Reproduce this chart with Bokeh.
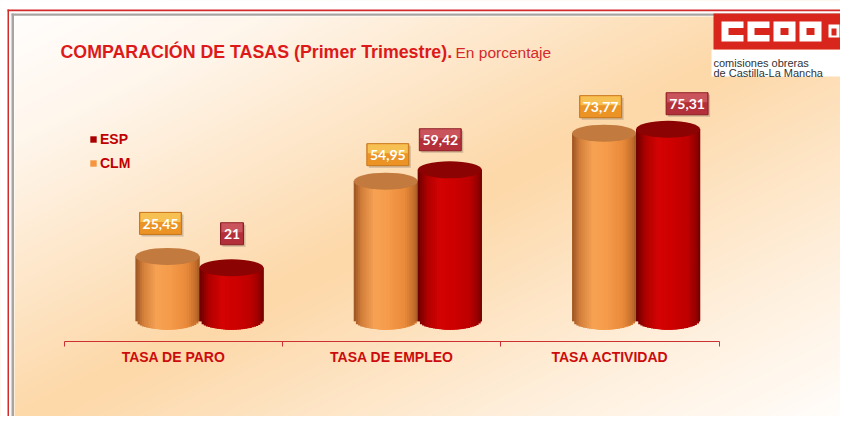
import numpy as np
from bokeh.plotting import figure
from bokeh.models import (Range1d, LinearAxis, FixedTicker, Label, Legend,
                          LegendItem, ColumnDataSource)
from bokeh.core.properties import value
from bokeh.embed import file_html
from bokeh.resources import INLINE

# ---------------- data ----------------
categories = ["TASA DE PARO", "TASA DE EMPLEO", "TASA ACTIVIDAD"]
series = ["ESP", "CLM"]
clm_values = [25.45, 54.95, 73.77]
esp_values = [21.0, 59.42, 75.31]

# ---------------- geometry / style ----------------
W, H = 840, 416
CAT0_PX, CAT_STEP_PX, BASE_PX, UNIT_PX = 173.0, 218.3, 320.8, 2.55


def X(px):  # canvas pixel -> data x
    return (px - CAT0_PX) / CAT_STEP_PX


def Y(py):  # canvas pixel -> data y
    return (BASE_PX - py) / UNIT_PX


BAR_W = 64 / CAT_STEP_PX
CAP_PX = 17
OFFSETS = {"CLM": -6 / CAT_STEP_PX, "ESP": 58 / CAT_STEP_PX}
LABEL_DX = {"CLM": [-7, 2, -3.5], "ESP": [0.5, -9.5, 19]}
LABEL_DY = {"CLM": [33, 26.5, 26.5], "ESP": [34, 30, 25.5]}

GRAD = {
    "CLM": ([-1, -0.75, -0.35, 0.1, 0.6, 0.88, 1],
            ["#9a5424", "#d4803c", "#f7a253", "#f59b4a", "#e98a3a", "#c46e2c", "#a05a24"]),
    "ESP": ([-1, -0.7, -0.3, 0.1, 0.6, 0.88, 1],
            ["#6a0000", "#b00000", "#d40404", "#cf0000", "#bd0000", "#950000", "#700000"]),
}
CAP_COLOR = {"CLM": "#c27a3e", "ESP": "#8c0303"}
BOX = {"CLM": ("#ec9326", "#fbcf62", "#c8761a"), "ESP": ("#b3303a", "#d26068", "#8c1c24")}
LEG_COLOR = {"ESP": "#a80000", "CLM": "#f5953f"}


def hex2rgb(h):
    h = h.lstrip("#")
    return [int(h[i:i + 2], 16) for i in (0, 2, 4)]


def grad_color(name, t):
    pos, cols = GRAD[name]
    rgb = np.array([hex2rgb(c) for c in cols], dtype=float)
    r, g, b = (np.interp(t, pos, rgb[:, k]) for k in range(3))
    return "#%02x%02x%02x" % (int(r), int(g), int(b))


def fmt(v):
    return str(int(v)) if float(v).is_integer() else f"{v:.2f}".replace(".", ",")


p = figure(width=W, height=H, x_range=Range1d(X(0), X(W)),
           y_range=Range1d(Y(H), Y(0)), output_backend="svg",
           toolbar_location=None, x_axis_location=None, y_axis_location=None,
           min_border=0)
for g in p.grid:
    g.visible = False
p.outline_line_color = None
p.background_fill_color = "white"
p.border_fill_color = "white"

# ---------------- background gradient ----------------
gw, gh = 420, 208
xs = (np.arange(gw) + 0.5) / gw * W
ys = (np.arange(gh) + 0.5) / gh * H
XX, YY = np.meshgrid(xs, ys)
u = XX / 856 + YY / 432
stops = [0, 0.35, 1.0, 1.6, 2.0]
scol = np.array([[255, 255, 255], [255, 246, 236], [253, 216, 168],
                 [255, 241, 224], [255, 255, 255]], dtype=float)
img = np.empty((gh, gw), dtype=np.uint32)
view = img.view(dtype=np.uint8).reshape((gh, gw, 4))
for k in range(3):
    view[:, :, k] = np.interp(u, stops, scol[:, k]).astype(np.uint8)
view[:, :, 3] = 255
img = img[::-1].copy()
p.image_rgba(image=[img], x=X(0), y=Y(H), dw=X(W) - X(0), dh=Y(0) - Y(H))

# frame lines
p.quad(left=[X(0), X(0)], right=[X(14), X(W)], top=[Y(0), Y(0)], bottom=[Y(H), Y(16)],
       fill_color="white", line_color=None)
p.quad(left=[X(7), X(7)], right=[X(W), X(8.5)], top=[Y(9), Y(9)], bottom=[Y(10.8), Y(H)],
       fill_color="#d42a2a", line_color=None)
p.quad(left=[X(11), X(11)], right=[X(W), X(13.5)], top=[Y(13), Y(13)], bottom=[Y(15.3), Y(H)],
       fill_color="#aaa4a0", line_color=None)

# ---------------- cylinders ----------------
K = 30
edges = np.linspace(-1, 1, K + 1)
dw = edges[1] - edges[0]
cap_half = CAP_PX / 2 / UNIT_PX
leg_r = {}
for name, vals in (("CLM", clm_values), ("ESP", esp_values)):
    xc = [i + OFFSETS[name] for i in range(len(vals))]
    # solid body of each bar (covered by the shading strips below)
    leg_r[name] = p.vbar(x=xc, top=vals, bottom=0, width=BAR_W, fill_color=LEG_COLOR[name],
                         line_color=None)
    xs_, ws_, tops, bots, cols = [], [], [], [], []
    for i, v in enumerate(vals):
        for k in range(K):
            l_ = edges[k]
            r_ = min(edges[k + 1] + 1.5 * dw, 1.0)
            c = (edges[k] + edges[k + 1]) / 2
            xs_.append(xc[i] + (l_ + r_) / 2 * BAR_W / 2)
            ws_.append((r_ - l_) * BAR_W / 2)
            tops.append(v)
            edge_c = r_ if r_ > 0 and l_ > 0 else (l_ if r_ < 0 else 0.0)
            bots.append(-cap_half * np.sqrt(max(0.0, 1 - edge_c * edge_c)))
            cols.append(grad_color(name, c))
    src = ColumnDataSource(dict(x=xs_, w=ws_, top=tops, bottom=bots, color=cols))
    p.vbar(x="x", top="top", bottom="bottom", width="w", fill_color="color",
           line_color=None, source=src)
    p.ellipse(x=xc, y=vals, width=BAR_W, height=CAP_PX, height_units="screen",
              fill_color=CAP_COLOR[name], line_color=None)

# ---------------- value labels ----------------
for name, vals in (("CLM", clm_values), ("ESP", esp_values)):
    txt = [fmt(v) for v in vals]
    lx = [i + OFFSETS[name] + LABEL_DX[name][i] / CAT_STEP_PX for i in range(len(vals))]
    ly = [v + LABEL_DY[name][i] / UNIT_PX for i, v in enumerate(vals)]
    bw = [6.33 * len(t) + 10.3 for t in txt]
    base, light, edge = BOX[name]
    p.rect(x=[a + 2 / CAT_STEP_PX for a in lx], y=[b - 2 / UNIT_PX for b in ly], width=bw,
           height=22, width_units="screen", height_units="screen",
           fill_color="#7a6a5a", fill_alpha=0.35, line_color=None)
    p.rect(x=lx, y=ly, width=bw, height=22, width_units="screen", height_units="screen",
           fill_color=base, line_color=edge, line_width=1)
    p.rect(x=lx, y=[b + 6 / UNIT_PX for b in ly], width=[w - 2 for w in bw], height=9,
           width_units="screen", height_units="screen",
           fill_color=light, fill_alpha=0.75, line_color=None)
    p.text(x=lx, y=[b - 0.5 / UNIT_PX for b in ly], text=txt, text_align="center",
           text_baseline="middle", text_color="white", text_font=value("Lato"),
           text_font_style="bold", text_font_size="14px")

# ---------------- category axis ----------------
ax = LinearAxis(fixed_location=Y(341),
                ticker=FixedTicker(ticks=[0, 1, 2], minor_ticks=[-0.5, 0.5, 1.5, 2.5]),
                bounds=(-0.5, 2.5))
ax.major_label_overrides = {i: c for i, c in enumerate(categories)}
ax.axis_line_color = "#cc3030"
ax.axis_line_width = 1.2
ax.major_tick_line_color = None
ax.major_tick_out = 0
ax.major_tick_in = 0
ax.minor_tick_line_color = "#cc3030"
ax.minor_tick_out = 5
ax.minor_tick_in = 0
ax.major_label_standoff = 2
ax.major_label_text_font = "Liberation Sans"
ax.major_label_text_font_style = "bold"
ax.major_label_text_font_size = "14px"
ax.major_label_text_color = "#cc0c0c"
p.add_layout(ax, "below")

# ---------------- legend ----------------
legend = Legend(items=[LegendItem(label=s, renderers=[leg_r[s]]) for s in series],
                location=(89, 245), orientation="vertical", padding=0, margin=0,
                spacing=8, glyph_width=8, glyph_height=8, label_height=8,
                label_standoff=3, border_line_color=None, background_fill_alpha=0,
                label_text_font="Liberation Sans", label_text_font_style="bold",
                label_text_font_size="14px", label_text_color="#c00000")
p.add_layout(legend)

# ---------------- title ----------------
p.add_layout(Label(x=60, y=H - 51.7, x_units="screen", y_units="screen",
                   text="COMPARACIÓN DE TASAS (Primer Trimestre).",
                   text_font="Liberation Sans", text_font_style="bold",
                   text_font_size="17.8px", text_color="#dd1a1a",
                   text_baseline="alphabetic"))
p.add_layout(Label(x=455, y=H - 51.7, x_units="screen", y_units="screen",
                   text="En porcentaje", text_font="Liberation Sans",
                   text_font_size="15.5px", text_color="#d42a2a",
                   text_baseline="alphabetic"))

# ---------------- logo ----------------
p.quad(left=[X(711)], right=[X(W)], top=[Y(49)], bottom=[Y(76)],
       fill_color="white", line_color=None)
p.quad(left=[X(713)], right=[X(W)], top=[Y(13)], bottom=[Y(49)],
       fill_color="#d9261c", line_color=None)
L0 = [721, 747, 773, 799]
p.quad(left=[X(a) for a in L0], right=[X(a + 22) for a in L0], top=[Y(21)] * 4,
       bottom=[Y(41)] * 4, fill_color="white", line_color=None)
p.quad(left=[X(a + 7) for a in L0], right=[X(L0[0] + 23), X(L0[1] + 23), X(L0[2] + 15), X(L0[3] + 15)],
       top=[Y(27.5)] * 4, bottom=[Y(34.5)] * 4, fill_color="#d9261c", line_color=None)
p.quad(left=[X(828)], right=[X(839)], top=[Y(24)], bottom=[Y(37)], fill_color="white", line_color=None)
p.quad(left=[X(831)], right=[X(836)], top=[Y(28)], bottom=[Y(35)], fill_color="#d9261c", line_color=None)
p.add_layout(Label(x=713, y=H - 62, x_units="screen", y_units="screen", text="comisiones obreras",
                   text_font="Liberation Sans", text_font_size="11px", text_color="#333333",
                   text_baseline="alphabetic"))
p.add_layout(Label(x=713, y=H - 72, x_units="screen", y_units="screen", text="de Castilla-La Mancha",
                   text_font="Liberation Sans", text_font_size="11px", text_color="#333333",
                   text_baseline="alphabetic"))

open("out.html", "w").write(file_html(p, INLINE))
